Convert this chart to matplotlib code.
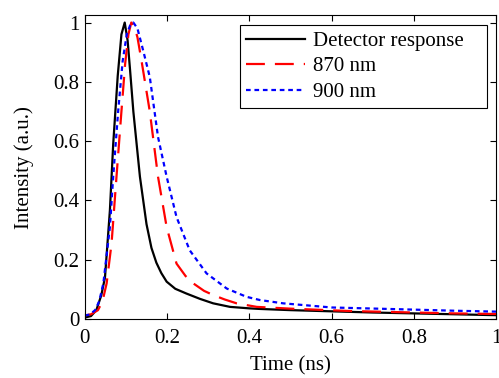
import numpy as np
import matplotlib
matplotlib.use("Agg")
import matplotlib.pyplot as plt
from matplotlib.ticker import FuncFormatter

# ── Dati ──────────────────────────────────────────────────────────────────────
t_det = [0.0, 0.015, 0.028, 0.040, 0.049, 0.061, 0.069, 0.080, 0.089, 0.097,
         0.104, 0.110, 0.118, 0.126, 0.134, 0.150, 0.162, 0.174, 0.186, 0.199,
         0.22, 0.247, 0.28, 0.312, 0.353, 0.40, 0.426, 0.50, 0.60, 0.70,
         0.80, 0.90, 1.0]
i_det = [0.005, 0.01, 0.03, 0.08, 0.14, 0.367, 0.59, 0.82, 0.96, 1.0,
         0.94, 0.84, 0.70, 0.59, 0.48, 0.32, 0.24, 0.19, 0.155, 0.126,
         0.102, 0.086, 0.068, 0.053, 0.041, 0.036, 0.034, 0.030, 0.026, 0.022,
         0.019, 0.016, 0.013]

t_870 = [0.0, 0.015, 0.032, 0.043, 0.053, 0.065, 0.077, 0.089, 0.098, 0.106,
         0.113, 0.120, 0.128, 0.138, 0.158, 0.178, 0.199, 0.223, 0.245, 0.264,
         0.29, 0.312, 0.34, 0.369, 0.418, 0.50, 0.645, 0.80, 0.90, 1.0]
i_870 = [0.012, 0.016, 0.03, 0.06, 0.12, 0.255, 0.48, 0.70, 0.86, 0.96,
         1.0, 0.99, 0.95, 0.87, 0.70, 0.48, 0.31, 0.187, 0.145, 0.12,
         0.095, 0.081, 0.066, 0.053, 0.041, 0.035, 0.027, 0.022, 0.019, 0.017]

t_900 = [0.0, 0.012, 0.025, 0.035, 0.045, 0.061, 0.069, 0.081, 0.092, 0.102,
         0.110, 0.118, 0.128, 0.142, 0.158, 0.178, 0.199, 0.223, 0.255, 0.296,
         0.345, 0.393, 0.426, 0.482, 0.60, 0.766, 0.90, 1.0]
i_900 = [0.012, 0.015, 0.03, 0.06, 0.12, 0.31, 0.48, 0.70, 0.87, 0.96,
         0.99, 1.0, 0.98, 0.905, 0.816, 0.614, 0.48, 0.344, 0.232, 0.154,
         0.103, 0.075, 0.064, 0.053, 0.039, 0.033, 0.028, 0.025]

plt.rcParams['font.family'] = ['Liberation Serif', 'DejaVu Serif']
plt.rcParams['font.size'] = 15

fig = plt.figure(figsize=(4.99, 3.78), dpi=100)
ax = fig.add_axes([0.170, 0.156, 0.824, 0.804])

ax.plot(t_det, i_det, color='k', lw=1.6, label='Detector response')
ax.plot(t_870, i_870, color='r', lw=1.6, dashes=(8.5, 4.5), label='870 nm')
ax.plot(t_900, i_900, color='b', lw=1.6, dashes=(2.1, 1.7), label='900 nm')

ax.set_xlim(0, 1)
ax.set_ylim(0, 1.025)
ax.set_xticks(np.arange(0, 1.01, 0.2))
ax.set_yticks(np.arange(0, 1.01, 0.2))
fmt = FuncFormatter(lambda v, p: f"{v:g}")
ax.xaxis.set_major_formatter(fmt)
ax.yaxis.set_major_formatter(fmt)
ax.tick_params(direction='in', top=True, right=True, length=4, width=0.8)
ax.tick_params(axis='x', pad=7)
ax.tick_params(axis='y', pad=4)
for s in ax.spines.values():
    s.set_linewidth(0.8)

ax.set_xlabel('Time (ns)', labelpad=6)
ax.set_ylabel('Intensity (a.u.)', labelpad=14)

# legenda allargata fino al bordo destro come nell'originale
leg = ax.legend(loc='upper left', bbox_to_anchor=(0.377, 0.694, 0.601, 0.273),
                mode='expand', fancybox=False, edgecolor='k', framealpha=1,
                handlelength=2.85, handletextpad=0.35, borderpad=0.3,
                labelspacing=0.28, borderaxespad=0.0)
leg.get_frame().set_linewidth(0.8)

fig.savefig('out.png', dpi=100)
